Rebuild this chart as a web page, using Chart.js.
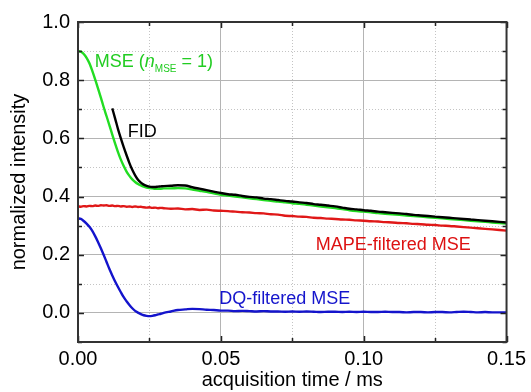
<!DOCTYPE html>
<html>
<head>
<meta charset="utf-8">
<script src="https://cdn.jsdelivr.net/npm/chart.js@4.4.0/dist/chart.umd.min.js"></script>
<style>
  html, body { margin: 0; padding: 0; background: #fff; }
  #wrap { width: 531px; height: 392px; }
</style>
</head>
<body>
<div id="wrap"><canvas id="decay"></canvas></div>
<script>
/* ---- signal decays vs acquisition time ---- */

const timeMs = [
  0, 0.001, 0.002, 0.003, 0.004, 0.005, 0.006, 0.007, 0.008, 0.009,
  0.010, 0.011, 0.012, 0.013, 0.014, 0.015, 0.016, 0.017, 0.018, 0.019,
  0.020, 0.021, 0.022, 0.023, 0.024, 0.025, 0.026, 0.027, 0.028, 0.029,
  0.030, 0.0325, 0.035, 0.0375, 0.040, 0.0425, 0.045, 0.0475, 0.050, 0.0525,
  0.055, 0.0575, 0.060, 0.0625, 0.065, 0.0675, 0.070, 0.0725, 0.075, 0.0775,
  0.080, 0.0825, 0.085, 0.0875, 0.090, 0.0925, 0.095, 0.0975, 0.100, 0.1025,
  0.105, 0.1075, 0.110, 0.1125, 0.115, 0.1175, 0.120, 0.1225, 0.125, 0.1275,
  0.130, 0.1325, 0.135, 0.1375, 0.140, 0.1425, 0.145, 0.1475, 0.150
];

// MSE (n_MSE = 1)
const mse = [
  0.900, 0.898, 0.890, 0.877, 0.858, 0.832, 0.803, 0.772, 0.740, 0.707,
  0.676, 0.645, 0.613, 0.582, 0.553, 0.527, 0.505, 0.486, 0.471, 0.459,
  0.450, 0.443, 0.438, 0.434, 0.431, 0.429, 0.428, 0.427, 0.427, 0.427,
  0.428, 0.428, 0.429, 0.428, 0.424, 0.420, 0.416, 0.411, 0.406, 0.403,
  0.400, 0.397, 0.394, 0.391, 0.388, 0.385, 0.383, 0.380, 0.377, 0.375,
  0.372, 0.369, 0.366, 0.363, 0.360, 0.357, 0.353, 0.350, 0.348, 0.346,
  0.343, 0.341, 0.339, 0.337, 0.335, 0.333, 0.331, 0.329, 0.327, 0.325,
  0.323, 0.321, 0.319, 0.317, 0.315, 0.313, 0.311, 0.309, 0.307
];

// FID (dead time: no data before 0.012 ms)
const fid = [
  null, null, null, null, null, null, null, null, null, null,
  null, null, 0.703, 0.668, 0.632, 0.600, 0.570, 0.542, 0.515, 0.492,
  0.473, 0.458, 0.448, 0.441, 0.437, 0.434, 0.433, 0.433, 0.434, 0.435,
  0.436, 0.437, 0.439, 0.438, 0.432, 0.427, 0.422, 0.417, 0.412, 0.408,
  0.406, 0.402, 0.399, 0.397, 0.393, 0.391, 0.388, 0.385, 0.383, 0.380,
  0.378, 0.374, 0.372, 0.369, 0.366, 0.362, 0.358, 0.356, 0.353, 0.351,
  0.348, 0.346, 0.344, 0.342, 0.340, 0.337, 0.335, 0.333, 0.331, 0.329,
  0.327, 0.325, 0.323, 0.321, 0.319, 0.317, 0.315, 0.313, 0.311
];

// MAPE-filtered MSE
const mape = [
  0.366, 0.365, 0.367, 0.366, 0.368, 0.367, 0.369, 0.368, 0.370, 0.369,
  0.370, 0.368, 0.369, 0.367, 0.368, 0.366, 0.367, 0.365, 0.366, 0.364,
  0.366, 0.364, 0.365, 0.363, 0.362, 0.363, 0.361, 0.362, 0.360, 0.361,
  0.360, 0.358, 0.359, 0.356, 0.357, 0.354, 0.355, 0.352, 0.351, 0.350,
  0.348, 0.346, 0.345, 0.343, 0.342, 0.339, 0.338, 0.334, 0.333, 0.331,
  0.330, 0.327, 0.326, 0.324, 0.323, 0.321, 0.320, 0.318, 0.317, 0.315,
  0.314, 0.312, 0.311, 0.309, 0.308, 0.306, 0.305, 0.303, 0.302, 0.300,
  0.299, 0.297, 0.295, 0.293, 0.291, 0.289, 0.287, 0.285, 0.283
];

// DQ-filtered MSE
const dq = [
  0.325, 0.323, 0.316, 0.307, 0.296, 0.282, 0.264, 0.244, 0.222, 0.199,
  0.175, 0.151, 0.129, 0.108, 0.089, 0.071, 0.054, 0.040, 0.027, 0.016,
  0.007, 0.001, -0.004, -0.008, -0.010, -0.011, -0.010, -0.008, -0.005, -0.003,
  0.000, 0.005, 0.010, 0.012, 0.014, 0.013, 0.011, 0.010, 0.008, 0.008,
  0.006, 0.007, 0.006, 0.005, 0.006, 0.005, 0.005, 0.004, 0.005, 0.004,
  0.005, 0.004, 0.003, 0.004, 0.004, 0.003, 0.004, 0.003, 0.004, 0.003,
  0.003, 0.004, 0.003, 0.003, 0.002, 0.003, 0.003, 0.002, 0.003, 0.003,
  0.002, 0.003, 0.004, 0.003, 0.002, 0.003, 0.002, 0.002, 0.002
];

const xTicks = [0, 0.05, 0.10, 0.15];
const xMinor = [0.025, 0.075, 0.125];
const yTicks = [0, 0.2, 0.4, 0.6, 0.8, 1.0];
const yMinor = [-0.1, 0.1, 0.3, 0.5, 0.7, 0.9];

const FONT = '"Liberation Sans", Arial, sans-serif';

const pts = arr => timeMs.map((t, i) => ({ x: t, y: arr[i] }));

function line(label, arr, color) {
  return {
    label, data: pts(arr),
    borderColor: color, borderWidth: 2.4,
    pointRadius: 0, fill: false, spanGaps: false,
    cubicInterpolationMode: 'monotone'
  };
}

// dotted minor grid, inward ticks, frame and the curve labels
const frame = {
  id: 'frame',
  beforeDatasetsDraw(chart) {
    const { ctx, chartArea: a, scales: { x, y } } = chart;
    ctx.save();
    ctx.strokeStyle = '#c4c4c4';
    ctx.lineWidth = 1;
    ctx.setLineDash([1, 2]);
    ctx.beginPath();
    xMinor.forEach(v => {
      const px = Math.round(x.getPixelForValue(v)) + 0.5;
      ctx.moveTo(px, a.top); ctx.lineTo(px, a.bottom);
    });
    yMinor.forEach(v => {
      const py = Math.round(y.getPixelForValue(v)) + 0.5;
      ctx.moveTo(a.left, py); ctx.lineTo(a.right, py);
    });
    ctx.stroke();
    ctx.restore();
  },
  afterDatasetsDraw(chart) {
    const { ctx, chartArea: a, scales: { x, y } } = chart;
    ctx.save();
    ctx.strokeStyle = '#222';
    ctx.lineWidth = 1.5;
    ctx.beginPath();
    const tick = (x0, y0, x1, y1) => { ctx.moveTo(x0, y0); ctx.lineTo(x1, y1); };
    xTicks.concat(xMinor).forEach(v => {
      const px = Math.round(x.getPixelForValue(v)) + 0.5;
      const len = xTicks.includes(v) ? 6 : 4;
      tick(px, a.top, px, a.top + len);
      tick(px, a.bottom, px, a.bottom - len);
    });
    yTicks.concat(yMinor).forEach(v => {
      const py = Math.round(y.getPixelForValue(v)) + 0.5;
      const len = yTicks.includes(v) ? 6 : 4;
      tick(a.left, py, a.left + len, py);
      tick(a.right, py, a.right - len, py);
    });
    ctx.stroke();

    ctx.lineWidth = 2;
    ctx.strokeStyle = '#333';
    ctx.strokeRect(a.left, a.top, a.right - a.left, a.bottom - a.top);

    // curve labels
    ctx.textBaseline = 'alphabetic';
    ctx.textAlign = 'left';
    let cx = x.getPixelForValue(0.0059);
    const cy = y.getPixelForValue(0.846);
    ctx.fillStyle = '#22cc22';
    const put = (txt, font, dy) => {
      ctx.font = font;
      ctx.fillText(txt, cx, cy + dy);
      cx += ctx.measureText(txt).width;
    };
    put('MSE (', '18px ' + FONT, 0);
    put('n', 'italic 18px ' + FONT, 0);
    put('MSE', '10px ' + FONT, 5);
    put(' = 1)', '18px ' + FONT, 0);

    ctx.font = '18px ' + FONT;
    ctx.fillStyle = '#000';
    ctx.fillText('FID', x.getPixelForValue(0.0174), y.getPixelForValue(0.606));
    ctx.fillStyle = '#dd1111';
    ctx.fillText('MAPE-filtered MSE', x.getPixelForValue(0.0832), y.getPixelForValue(0.2165));
    ctx.fillStyle = '#1515cc';
    ctx.fillText('DQ-filtered MSE', x.getPixelForValue(0.0494), y.getPixelForValue(0.031));
    ctx.restore();
  }
};

new Chart(document.getElementById('decay'), {
  type: 'line',
  data: {
    datasets: [
      line('FID', fid, '#000000'),
      line('MSE', mse, '#22dd22'),
      line('MAPE-filtered MSE', mape, '#e01818'),
      line('DQ-filtered MSE', dq, '#1414cc')
    ]
  },
  options: {
    responsive: true,
    maintainAspectRatio: false,
    animation: false,
    events: [],
    layout: { padding: { left: 0, top: 22, right: 22, bottom: 0 } },
    plugins: { legend: { display: false }, tooltip: { enabled: false } },
    scales: {
      x: {
        type: 'linear', min: 0, max: 0.15,
        afterBuildTicks: s => { s.ticks = xTicks.map(v => ({ value: v })); },
        afterFit: s => { s.height = 50; },
        grid: { color: '#b4b4b4', lineWidth: 1, drawTicks: false },
        border: { display: false },
        ticks: {
          color: '#000', padding: 5, maxRotation: 0,
          font: { family: FONT, size: 20 },
          callback: v => v.toFixed(2)
        },
        title: {
          display: true, text: 'acquisition time / ms', color: '#000',
          font: { family: FONT, size: 20 }, padding: { top: 0, bottom: 0 }
        }
      },
      y: {
        type: 'linear', min: -0.1, max: 1.0,
        afterBuildTicks: s => { s.ticks = yTicks.map(v => ({ value: v })); },
        afterFit: s => { s.width = 78; },
        grid: { color: '#b4b4b4', lineWidth: 1, drawTicks: false },
        border: { display: false },
        ticks: {
          color: '#000', padding: 8,
          font: { family: FONT, size: 20 },
          callback: v => v.toFixed(1)
        },
        title: {
          display: true, text: 'normalized intensity', color: '#000',
          font: { family: FONT, size: 20 }, padding: { top: 7, bottom: 0 }
        }
      }
    }
  },
  plugins: [frame]
});
</script>
</body>
</html>
